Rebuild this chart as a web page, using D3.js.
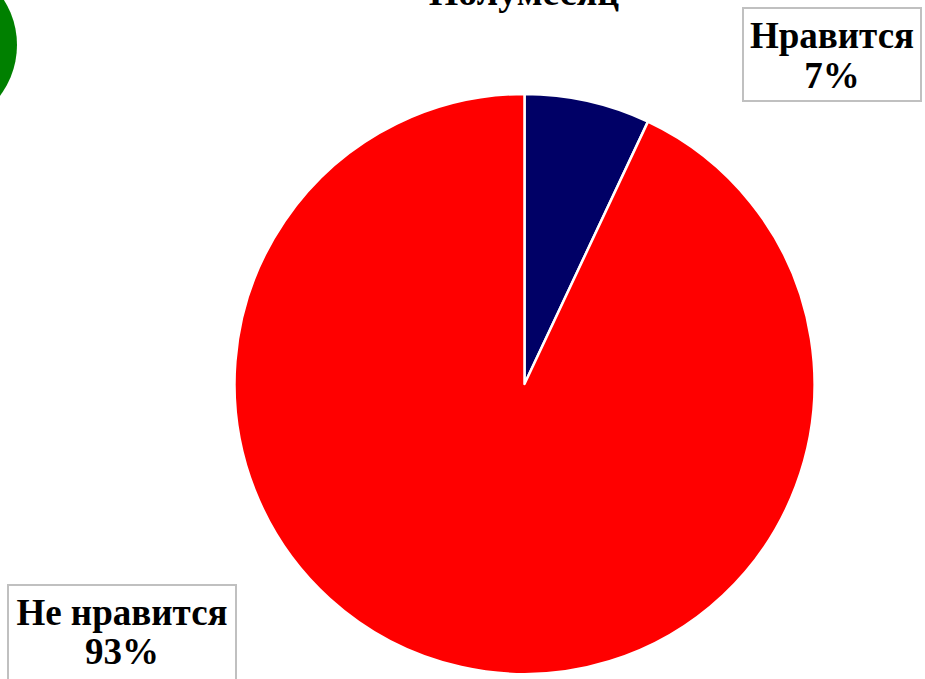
<!DOCTYPE html>
<html>
<head>
<meta charset="utf-8">
<script src="https://cdn.jsdelivr.net/npm/d3@7"></script>
<style>
  html, body { margin: 0; padding: 0; background: #fff; overflow: hidden; }
  svg { display: block; }
</style>
</head>
<body>
<svg id="chart" width="925" height="679"></svg>
<script>
const title = "Полумесяц";
const categories = ["Нравится", "Не нравится"];
const values = [7, 93];
const colors = ["#000066", "#ff0000"];

const svg = d3.select("#chart");
const font = "'Liberation Serif', 'Times New Roman', serif";

// decorative green circle at top-left
svg.append("circle")
  .attr("cx", -67).attr("cy", 45).attr("r", 84)
  .attr("fill", "#008000");

// title (partially cut off at top, as in the reference)
svg.append("text")
  .attr("x", 524).attr("y", 5)
  .attr("text-anchor", "middle")
  .attr("font-family", font)
  .attr("font-weight", "bold")
  .attr("font-size", 38)
  .attr("fill", "#000")
  .text(title);

const cx = 524.5, cy = 384, r = 290;
const data = categories.map((c, i) => ({ cat: c, value: values[i], color: colors[i] }));
const pie = d3.pie().sort(null).value(d => d.value);
const arc = d3.arc().innerRadius(0).outerRadius(r);

svg.append("g")
  .attr("transform", `translate(${cx},${cy})`)
  .selectAll("path")
  .data(pie(data))
  .join("path")
  .attr("d", arc)
  .attr("fill", d => d.data.color)
  .attr("stroke", "#fff")
  .attr("stroke-width", 2.5)
  .attr("stroke-linejoin", "round");

// label boxes
const labelBoxes = [
  { x: 743, y: 8, w: 178, h: 93, tx: 832, b1: 48, b2: 88 },
  { x: 8, y: 585, w: 228, h: 100, tx: 122, b1: 625, b2: 664 }
];
const total = d3.sum(values);
data.forEach((d, i) => {
  const b = labelBoxes[i];
  const g = svg.append("g");
  g.append("rect")
    .attr("x", b.x).attr("y", b.y).attr("width", b.w).attr("height", b.h)
    .attr("fill", "#fff")
    .attr("stroke", "#c0c0c0").attr("stroke-width", 2);
  const t = g.append("text")
    .attr("text-anchor", "middle")
    .attr("font-family", font)
    .attr("font-weight", "bold")
    .attr("font-size", 37)
    .attr("fill", "#000");
  t.append("tspan").attr("x", b.tx).attr("y", b.b1).text(d.cat);
  t.append("tspan").attr("x", b.tx).attr("y", b.b2).text(Math.round(d.value / total * 100) + "%");
});
</script>
</body>
</html>
